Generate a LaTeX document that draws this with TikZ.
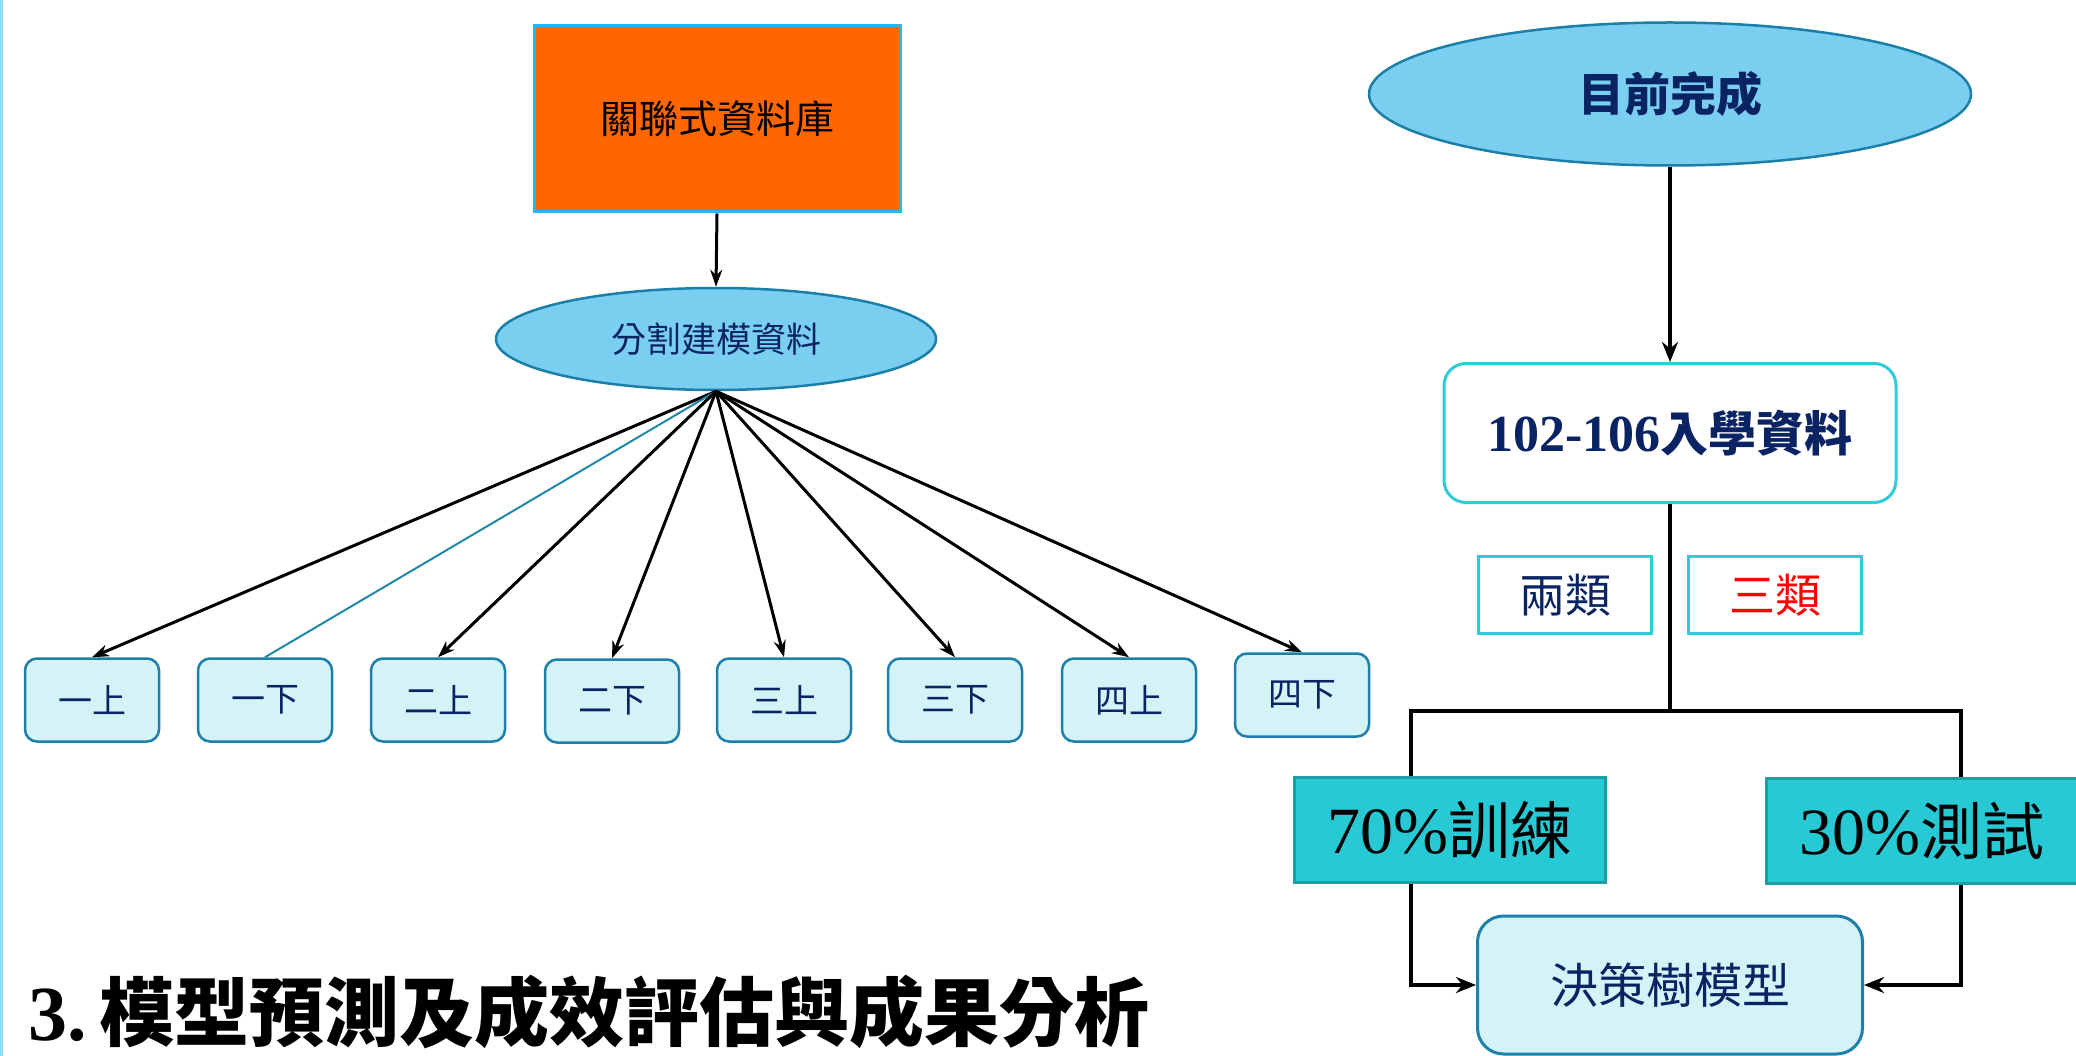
\documentclass[tikz,border=0pt]{standalone}
\usepackage{fontspec}
\setmainfont{Liberation Serif}
\newfontfamily\cjk{Noto Sans CJK TC}
\usetikzlibrary{shapes.geometric,arrows.meta}
\newcommand\myfs[1]{\fontsize{#1}{#1}\selectfont}
\definecolor{navy}{HTML}{0A2463}
\definecolor{orangebox}{HTML}{FF6600}
\definecolor{skyborder}{HTML}{29B6E8}
\definecolor{ellfill}{HTML}{7ACFF0}
\definecolor{ellborder}{HTML}{1B7FA8}
\definecolor{paleFill}{HTML}{D4F3F7}
\definecolor{paleBorder}{HTML}{1E7FAA}
\definecolor{cyanBorder}{HTML}{2ECCD8}
\definecolor{tealFill}{HTML}{26C9D4}
\definecolor{tealBorder}{HTML}{1E9DA5}
\definecolor{thinline}{HTML}{2288AA}
\definecolor{edgeblue}{HTML}{8EDCF5}
\tikzset{
  arr/.style={-{Stealth[length=17pt,width=12pt]}, line width=3pt, black},
  arrbig/.style={-{Stealth[length=20pt,width=16pt]}, line width=4.5pt, black},
  link/.style={line width=4.5pt, black},
  ell/.style={ellipse, draw=ellborder, fill=ellfill, line width=2.5pt, inner sep=0pt},
  semester/.style={rectangle, rounded corners=12pt, draw=paleBorder, fill=paleFill, line width=2.5pt,
    minimum width=134pt, minimum height=83pt, inner sep=0pt, text=navy, font=\cjk\myfs{34}},
  catbox/.style={rectangle, draw=cyanBorder, fill=white, line width=3pt,
    minimum width=173pt, minimum height=77pt, inner sep=0pt, font=\cjk\myfs{46}},
  splitbox/.style={rectangle, draw=tealBorder, fill=tealFill, line width=3pt,
    minimum width=311pt, minimum height=105pt, inner sep=0pt, text=black},
}
\begin{document}
\begin{tikzpicture}[x=1pt,y=-1pt]
\useasboundingbox (0,0) rectangle (2076,1056);
\fill[white] (0,0) rectangle (2076,1056);
\draw[edgeblue, line width=3pt] (1.5,0) -- (1.5,1056);

% left part
\node[rectangle, draw=skyborder, fill=orangebox, line width=3pt, minimum width=366pt, minimum height=186pt,
  inner sep=0pt, font=\cjk\myfs{39}] (db) at (717,119) {關聯式資料庫};
\node[ell, minimum width=440pt, minimum height=102pt, text=navy, font=\cjk\myfs{35}] (split) at (716,339) {分割建模資料};
\draw[arr] (db.south) -- (split.north);

\node[semester] (s1) at (92,700) {一上};
\node[semester] (s2) at (265,700) {一下};
\node[semester] (s3) at (438,700) {二上};
\node[semester] (s4) at (612,701) {二下};
\node[semester] (s5) at (784,700) {三上};
\node[semester] (s6) at (955,700) {三下};
\node[semester] (s7) at (1129,700) {四上};
\node[semester] (s8) at (1302,695) {四下};

\draw[arr] (split.south) -- (s1.north);
\draw[thinline, line width=2pt] (split.south) -- (s2.north);
\draw[arr] (split.south) -- (s3.north);
\draw[arr] (split.south) -- (s4.north);
\draw[arr] (split.south) -- (s5.north);
\draw[arr] (split.south) -- (s6.north);
\draw[arr] (split.south) -- (s7.north);
\draw[arr] (split.south) -- (s8.north);

% right part
\node[ell, minimum width=602pt, minimum height=143pt, text=navy, font=\cjk\bfseries\myfs{46}] (done) at (1670,94) {目前完成};
\node[rectangle, rounded corners=22pt, draw=cyanBorder, fill=white, line width=3pt, minimum width=452pt, minimum height=139pt,
  inner sep=0pt, text=navy] (data) at (1670,433) {{\bfseries\myfs{52}102-106}{\cjk\bfseries\myfs{48}入學資料}};
\draw[arrbig] (done.south) -- (data.north);

\coordinate (j) at (1670,711);
\coordinate (jl) at (1411,711);
\coordinate (jr) at (1961,711);

\node[catbox, text=navy] (two) at (1565,595) {兩類};
\node[catbox, text=red] (three) at (1775,595) {三類};

\node[splitbox] (train) at (1449.5,830) {{\myfs{66}70\%}{\cjk\myfs{62}訓練}};
\node[splitbox] (test) at (1922,831) {{\myfs{66}30\%}{\cjk\myfs{62}測試}};

\node[rectangle, rounded corners=26pt, draw=paleBorder, fill=paleFill, line width=3pt, minimum width=385pt, minimum height=138pt,
  inner sep=0pt, text=navy, font=\cjk\myfs{48}] (tree) at (1670,985) {決策樹模型};

\draw[link] (data.south) -- (j);
\draw[link, line cap=rect] (jl) -- (jr);
\draw[link] (jl) -- (jl |- train.north);
\draw[link] (jr) -- (jr |- test.north);
\draw[arrbig] (jl |- train.south) |- (tree.west);
\draw[arrbig] (jr |- test.south) |- (tree.east);

% title
\node[anchor=base west, inner sep=0pt] (title) at (28,1040)
  {{\bfseries\myfs{78}3.\,}{\cjk\bfseries\myfs{75}模型預測及成效評估與成果分析}};
\end{tikzpicture}
\end{document}
